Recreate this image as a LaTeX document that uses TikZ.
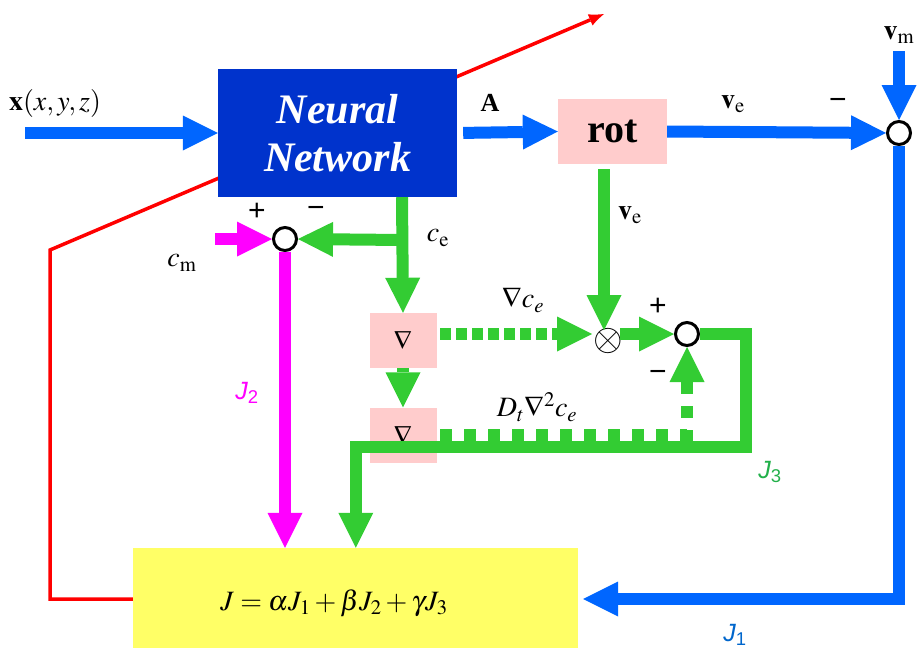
\documentclass[tikz,border=0pt]{standalone}
\usepackage{mathptmx}
\usepackage{fontspec}
\setmainfont{Liberation Serif}
\newfontfamily\sansf{Liberation Sans}
\usetikzlibrary{arrows.meta, positioning}

\definecolor{nnblue}{HTML}{0033CC}
\definecolor{flowblue}{HTML}{0066FF}
\definecolor{flowgreen}{HTML}{33CC33}
\definecolor{flowmag}{HTML}{FF00FF}
\definecolor{boxpink}{HTML}{FFCCCC}
\definecolor{boxyellow}{HTML}{FFFF66}
\definecolor{labgreen}{HTML}{22B04A}
\definecolor{labblue}{HTML}{0066CC}

\tikzset{
  fat/.style={line width=12pt, -{Triangle[length=35pt, width=35pt, line width=0pt]}},
  bluefat/.style={fat, draw=flowblue},
  greenfat/.style={fat, draw=flowgreen},
  magfat/.style={fat, draw=flowmag},
  sumnode/.style={circle, draw=black, line width=3pt, fill=white, minimum size=23pt, inner sep=0pt},
  gradbox/.style={fill=boxpink, minimum width=67pt, minimum height=55pt, inner sep=0pt, font=\fontsize{26}{30}\selectfont},
  lbl/.style={inner sep=0pt, font=\fontsize{28}{32}\selectfont},
  sgn/.style={inner sep=0pt, font=\sansf\fontsize{30}{34}\selectfont},
  jlbl/.style={inner sep=0pt, font=\sansf\fontsize{25}{29}\selectfont},
}

\begin{document}
\begin{tikzpicture}[x=1pt, y=-1pt]
    \useasboundingbox (0,0) rectangle (922,648);

    % Khoi ham muc tieu (ve truoc de duong do nam duoi)
    \node[fill=boxyellow, minimum width=445pt, minimum height=102pt, inner sep=0pt] (cost) at (355.5,599) {};
    \node[lbl] (costeq) at (334,603) {$J=\alpha J_1+\beta J_2+\gamma J_3$};

    % Duong do cap nhat trong so
    \coordinate (redtip) at (604,14);
    \draw[red, line width=3.5pt, -{Latex[length=15pt, width=12pt, line width=0pt]}]
        (cost.west) -| (50,250) -- (redtip);

    % Cac khoi chinh
    \node[fill=nnblue, text=white, minimum width=239pt, minimum height=128pt, align=center,
          font=\bfseries\itshape\fontsize{42}{48}\selectfont] (nn) at (337.5,133) {Neural\\Network};
    \node[fill=boxpink, minimum width=109pt, minimum height=65pt, inner sep=0pt,
          font=\bfseries\fontsize{40}{44}\selectfont] (rot) at (612.5,131.5) {rot};
    \node[sumnode] (sumV) at (899,133) {};
    \node[sumnode] (sumC) at (285,239) {};
    \node[sumnode] (sumJ) at (687,334) {};
    \node[gradbox] (grad1) at (403,340.5) {$\nabla$};
    \node[gradbox] (grad2) at (403,435) {$\nabla$};
    \node[inner sep=0pt, font=\fontsize{38}{42}\selectfont] (prod) at (608,341) {$\otimes$};

    % Diem dau tu do
    \coordinate (xin) at (25,133);
    \coordinate (vmin) at (899,51);
    \coordinate (cmin) at (215,239);
    \coordinate (branch) at (402,240);

    % Nhanh J1 (xanh duong)
    \draw[bluefat] (xin) -- (nn.west);
    \draw[bluefat, shorten <=6pt] (nn.east) -- (rot.west);
    \draw[bluefat] (rot.east) -- (sumV.west);
    \draw[bluefat] (vmin) -- (sumV.north);
    \draw[bluefat] (sumV.south) |- ([xshift=5pt]cost.east);

    % Nhanh J2 (tim)
    \draw[magfat] (cmin) -- (sumC.west);
    \draw[magfat] (sumC.south) -- (sumC.south |- cost.north);

    % Nhanh J3 (xanh la)
    \draw[greenfat] (branch |- nn.south) -- (grad1.north);
    \draw[greenfat] (branch) -- (sumC.east);
    \draw[greenfat] (grad1.south) -- (grad2.north);
    \draw[greenfat] ([xshift=-8.5pt, yshift=-5pt]rot.south) -- ([xshift=-4pt, yshift=-2pt]prod.north);
    \draw[greenfat, dash pattern=on 11pt off 5pt] ([xshift=3.5pt, yshift=6.5pt]grad1.east) -- ([xshift=-1pt, yshift=7pt]prod.west);
    \draw[greenfat] ([xshift=-3pt, yshift=7pt]prod.east) -- (sumJ.west);
    \draw[greenfat, dash pattern=on 12pt off 12pt] ([xshift=3.5pt]grad2.east) -| (sumJ.south);
    \draw[greenfat] (sumJ.east) -| (746,447) -| ([xshift=223pt]cost.north west);

    % Nhan
    \node[lbl] (lblx) at (55,103) {$\mathbf{x}(x,y,z)$};
    \node[lbl, font=\bfseries\fontsize{26}{30}\selectfont] (lblA) at (490,103) {A};
    \node[lbl] (lblve) at (733,104) {$\mathbf{v}_{\mathrm{e}}$};
    \node[lbl] (lblvm) at (899,35) {$\mathbf{v}_{\mathrm{m}}$};
    \node[sgn] (mV) at (838,104) {−};
    \node[sgn] (pV) at (932,104) {+};
    \node[lbl] (lblve2) at (630,215) {$\mathbf{v}_{\mathrm{e}}$};
    \node[lbl] (lblce) at (438,238) {$c_{\mathrm{e}}$};
    \node[lbl] (lblcm) at (182,263) {$c_{\mathrm{m}}$};
    \node[sgn] (pC) at (257,212) {+};
    \node[sgn] (mC) at (316,212) {−};
    \node[sgn] (pJ) at (658,307) {+};
    \node[sgn] (mJ) at (658,376) {−};
    \node[lbl] (lblgc) at (523,300) {$\nabla c_e$};
    \node[lbl] (lbldt) at (537,407) {$D_t\nabla^2 c_e$};
    \node[jlbl, text=flowmag] (lblJ2) at (247,393) {\textit{J}\textsubscript{2}};
    \node[jlbl, text=labgreen] (lblJ3) at (770,472) {\textit{J}\textsubscript{3}};
    \node[jlbl, text=labblue] (lblJ1) at (735,635) {\textit{J}\textsubscript{1}};
\end{tikzpicture}
\end{document}
